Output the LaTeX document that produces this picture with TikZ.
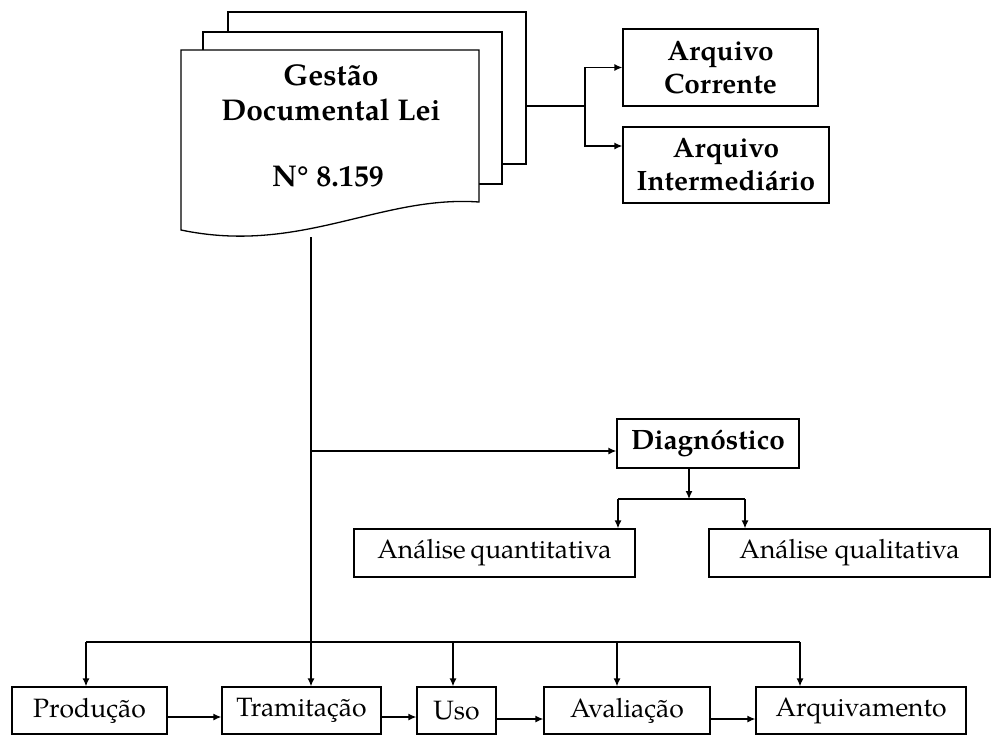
\documentclass[tikz,border=0pt]{standalone}
\usepackage{fontspec}
\setmainfont{texgyrepagella}[Extension=.otf,UprightFont=*-regular,BoldFont=*-bold,ItalicFont=*-italic,BoldItalicFont=*-bolditalic]
\usetikzlibrary{arrows.meta}
\begin{document}
\begin{tikzpicture}[x=1pt,y=-1pt,
  line width=1.3pt,
  arr/.style={-{Latex[length=8pt,width=7pt]}},
  sheet/.style={draw,fill=white},
  bbox/.style={draw,inner sep=0pt,align=center,font=\fontsize{28}{33}\selectfont\bfseries},
  nbox/.style={draw,inner sep=0pt,align=center,font=\fontsize{26.5}{31}\selectfont}]
\useasboundingbox (0,0) rectangle (1000,736);
% document stack
\draw[sheet] (228,12) rectangle (526,164);
\draw[sheet] (203,32) rectangle (502,184);
\draw[sheet] (181,50) -- (479,50) -- (479,202) .. controls (380,195) and (300,255) .. (181,230) -- cycle;
\node[font=\fontsize{30}{35}\selectfont\bfseries,align=center] (doc) at (331,93) {Gestão\\Documental Lei};
\node[font=\fontsize{30}{35}\selectfont\bfseries] (lei) at (328,176.5) {N° 8.159};
\coordinate (stackr) at (526,106);
\coordinate (split) at (585,106);
\coordinate (docb) at (311,237);
% archive boxes
\node[bbox,minimum width=195pt,minimum height=77pt] (ac) at (720.5,67.5) {Arquivo\\Corrente};
\node[bbox,minimum width=206pt,minimum height=76pt] (ai) at (726,165) {Arquivo\\Intermediário};
\draw (stackr) -- (split);
\draw[arr] (split) |- (ac.west);
\draw[arr] (split) |- (ai.west |- 0,146);
% diagnosis
\node[bbox,minimum width=182pt,minimum height=49pt] (diag) at (708,443.5) {Diagnóstico};
\node[nbox,minimum width=281pt,minimum height=48pt] (quant) at (494.5,553) {Análise\hspace{-2pt} quantitativa};
\node[nbox,minimum width=281pt,minimum height=48pt] (qual) at (849.5,553) {Análise qualitativa};
\coordinate (trunkd) at (311,451);
\coordinate (trunkb) at (311,642);
\draw (docb) -- (trunkb);
\draw[arr] (trunkd) -- (diag.west |- trunkd);
\coordinate (dsplit) at (689,499);
\draw[arr] (diag.south -| dsplit) -- (dsplit);
\draw (618,499) -- (745,499);
\draw[arr] (618,499) -- (quant.north -| 618,0);
\draw[arr] (745,499) -- (qual.north -| 745,0);
% bottom row
\node[nbox,minimum width=155pt,minimum height=47pt] (prod) at (89.5,710.5) {Produção};
\node[nbox,minimum width=159pt,minimum height=47pt] (tram) at (301.5,710.5) {Tramitação};
\node[nbox,minimum width=79pt,minimum height=47pt] (uso) at (456.5,710.5) {Uso};
\node[nbox,minimum width=166pt,minimum height=47pt] (aval) at (627,710.5) {Avaliação};
\node[nbox,minimum width=210pt,minimum height=47pt] (arq) at (861,710.5) {Arquivamento};
\draw (86,642) -- (800,642);
\draw[arr] (86,642) -- (prod.north -| 86,0);
\draw[arr] (trunkb) -- (tram.north -| trunkb);
\draw[arr] (453,642) -- (uso.north -| 453,0);
\draw[arr] (617,642) -- (aval.north -| 617,0);
\draw[arr] (800,642) -- (arq.north -| 800,0);
\draw[arr] (prod.east |- 0,717) -- (tram.west |- 0,717);
\draw[arr] (tram.east |- 0,717) -- (uso.west |- 0,717);
\draw[arr] (uso.east |- 0,719) -- (aval.west |- 0,719);
\draw[arr] (aval.east |- 0,719) -- (arq.west |- 0,719);
\end{tikzpicture}
\end{document}
